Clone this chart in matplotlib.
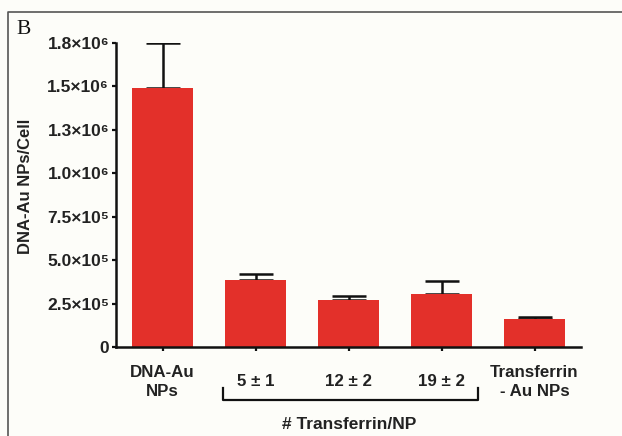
import matplotlib
matplotlib.use("Agg")
import matplotlib.pyplot as plt
from matplotlib.lines import Line2D

categories = ["DNA-Au\nNPs", "5 ± 1", "12 ± 2", "19 ± 2", "Transferrin\n- Au NPs"]
values = [1.49e6, 3.85e5, 2.72e5, 3.03e5, 1.59e5]
errors = [0.26e6, 0.35e5, 0.23e5, 0.75e5, 0.13e5]
yticks = [0, 2.5e5, 5.0e5, 7.5e5, 1.0e6, 1.25e6, 1.5e6, 1.75e6]
yticklabels = ["0", "2.5×10⁵", "5.0×10⁵", "7.5×10⁵", "1.0×10⁶", "1.3×10⁶", "1.5×10⁶", "1.8×10⁶"]
group_label = "# Transferrin/NP"
ylabel = "DNA-Au NPs/Cell"

fam = ["Liberation Sans", "DejaVu Sans"]
bg = "#fdfdf9"
red = "#e3302a"
txt = "#222222"

fig = plt.figure(figsize=(6.22, 4.36), dpi=100, facecolor=bg)
ax = fig.add_axes([116/622, 1-347/436, (581-116)/622, (347-42.7)/436])
ax.set_facecolor(bg)

x = list(range(len(categories)))
ax.bar(x, values, width=0.66, color=red, zorder=2)
ax.errorbar(x, values, yerr=[[0]*len(errors), errors], fmt="none",
            ecolor="#111111", elinewidth=1.8, capsize=12, capthick=1.8, zorder=1)

ax.set_xlim(-0.5, 4.5)
ax.set_ylim(0, 1.75e6)
ax.set_yticks(yticks)
ax.set_yticklabels(yticklabels, family=fam, fontweight="bold", fontsize=12.5, color=txt)
ax.set_xticks(x)
ax.set_xticklabels(categories, family=fam, fontweight="bold", fontsize=12.2, color=txt,
                   linespacing=1.3, va="center")
ax.tick_params(axis="both", direction="out", length=3, width=1.6, color="#111111")
ax.tick_params(axis="x", pad=22)
ax.tick_params(axis="y", pad=2)
for s in ["top", "right"]:
    ax.spines[s].set_visible(False)
for s in ["left", "bottom"]:
    ax.spines[s].set_linewidth(1.8)
    ax.spines[s].set_color("#111111")

ax.set_ylabel(ylabel, family=fam, fontweight="bold", fontsize=12, color=txt)
ax.yaxis.label.set_va("center")
ax.yaxis.set_label_coords((26-116)/(581-116), (347-186)/(347-42.7))

# bracket
bx0, bx1, by_top, by_bot = 223, 478, 388, 400
fig.add_artist(Line2D([bx0/622, bx0/622, bx1/622, bx1/622],
                      [1-by_top/436, 1-by_bot/436, 1-by_bot/436, 1-by_top/436],
                      color="#111111", lw=1.6))
fig.text(349/622, 1-424/436, group_label, ha="center", va="center",
         family=fam, fontweight="bold", fontsize=12.5, color=txt)

# frame and panel letter
fig.add_artist(Line2D([8/622, 8/622, 1.0], [0.0, 1-12/436, 1-12/436], color="#555555", lw=1.2))
fig.text(16/622, 1-34/436, "B", family=["Liberation Serif", "DejaVu Serif"], fontsize=15.5,
         ha="left", va="baseline", color="#111111")

fig.savefig("out.png", dpi=100, facecolor=bg)
